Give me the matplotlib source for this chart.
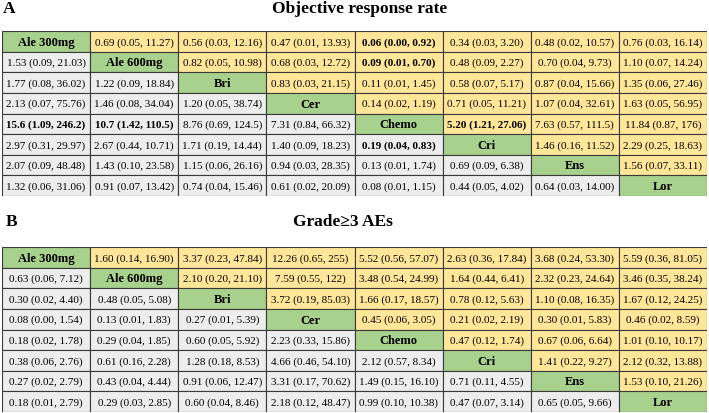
import matplotlib.pyplot as plt
from matplotlib.patches import Rectangle

plt.rcParams['font.family'] = ['Liberation Serif', 'DejaVu Serif']

# treatment names on the diagonal
names = ['Ale 300mg', 'Ale 600mg', 'Bri', 'Cer', 'Chemo', 'Cri', 'Ens', 'Lor']

# panel A: objective response rate, OR (95% CrI); '' on the diagonal
orr_rows = [
    ['', '0.69 (0.05, 11.27)', '0.56 (0.03, 12.16)', '0.47 (0.01, 13.93)', '0.06 (0.00, 0.92)', '0.34 (0.03, 3.20)', '0.48 (0.02, 10.57)', '0.76 (0.03, 16.14)'],
    ['1.53 (0.09, 21.03)', '', '0.82 (0.05, 10.98)', '0.68 (0.03, 12.72)', '0.09 (0.01, 0.70)', '0.48 (0.09, 2.27)', '0.70 (0.04, 9.73)', '1.10 (0.07, 14.24)'],
    ['1.77 (0.08, 36.02)', '1.22 (0.09, 18.84)', '', '0.83 (0.03, 21.15)', '0.11 (0.01, 1.45)', '0.58 (0.07, 5.17)', '0.87 (0.04, 15.66)', '1.35 (0.06, 27.46)'],
    ['2.13 (0.07, 75.76)', '1.46 (0.08, 34.04)', '1.20 (0.05, 38.74)', '', '0.14 (0.02, 1.19)', '0.71 (0.05, 11.21)', '1.07 (0.04, 32.61)', '1.63 (0.05, 56.95)'],
    ['15.6 (1.09, 246.2)', '10.7 (1.42, 110.5)', '8.76 (0.69, 124.5)', '7.31 (0.84, 66.32)', '', '5.20 (1.21, 27.06)', '7.63 (0.57, 111.5)', '11.84 (0.87, 176)'],
    ['2.97 (0.31, 29.97)', '2.67 (0.44, 10.71)', '1.71 (0.19, 14.44)', '1.40 (0.09, 18.23)', '0.19 (0.04, 0.83)', '', '1.46 (0.16, 11.52)', '2.29 (0.25, 18.63)'],
    ['2.07 (0.09, 48.48)', '1.43 (0.10, 23.58)', '1.15 (0.06, 26.16)', '0.94 (0.03, 28.35)', '0.13 (0.01, 1.74)', '0.69 (0.09, 6.38)', '', '1.56 (0.07, 33.11)'],
    ['1.32 (0.06, 31.06)', '0.91 (0.07, 13.42)', '0.74 (0.04, 15.46)', '0.61 (0.02, 20.09)', '0.08 (0.01, 1.15)', '0.44 (0.05, 4.02)', '0.64 (0.03, 14.00)', ''],
]
orr_bold = [(0, 4), (1, 4), (4, 0), (4, 1), (4, 5), (5, 4)]

# panel B: grade>=3 adverse events
ae_rows = [
    ['', '1.60 (0.14, 16.90)', '3.37 (0.23, 47.84)', '12.26 (0.65, 255)', '5.52 (0.56, 57.07)', '2.63 (0.36, 17.84)', '3.68 (0.24, 53.30)', '5.59 (0.36, 81.05)'],
    ['0.63 (0.06, 7.12)', '', '2.10 (0.20, 21.10)', '7.59 (0.55, 122)', '3.48 (0.54, 24.99)', '1.64 (0.44, 6.41)', '2.32 (0.23, 24.64)', '3.46 (0.35, 38.24)'],
    ['0.30 (0.02, 4.40)', '0.48 (0.05, 5.08)', '', '3.72 (0.19, 85.03)', '1.66 (0.17, 18.57)', '0.78 (0.12, 5.63)', '1.10 (0.08, 16.35)', '1.67 (0.12, 24.25)'],
    ['0.08 (0.00, 1.54)', '0.13 (0.01, 1.83)', '0.27 (0.01, 5.39)', '', '0.45 (0.06, 3.05)', '0.21 (0.02, 2.19)', '0.30 (0.01, 5.83)', '0.46 (0.02, 8.59)'],
    ['0.18 (0.02, 1.78)', '0.29 (0.04, 1.85)', '0.60 (0.05, 5.92)', '2.23 (0.33, 15.86)', '', '0.47 (0.12, 1.74)', '0.67 (0.06, 6.64)', '1.01 (0.10, 10.17)'],
    ['0.38 (0.06, 2.76)', '0.61 (0.16, 2.28)', '1.28 (0.18, 8.53)', '4.66 (0.46, 54.10)', '2.12 (0.57, 8.34)', '', '1.41 (0.22, 9.27)', '2.12 (0.32, 13.88)'],
    ['0.27 (0.02, 2.79)', '0.43 (0.04, 4.44)', '0.91 (0.06, 12.47)', '3.31 (0.17, 70.62)', '1.49 (0.15, 16.10)', '0.71 (0.11, 4.55)', '', '1.53 (0.10, 21.26)'],
    ['0.18 (0.01, 2.79)', '0.29 (0.03, 2.85)', '0.60 (0.04, 8.46)', '2.18 (0.12, 48.47)', '0.99 (0.10, 10.38)', '0.47 (0.07, 3.14)', '0.65 (0.05, 9.66)', ''],
]
ae_bold = []

GREEN = '#a9d18e'
YELLOW = '#ffe699'
GRAY = '#ededed'
EDGE = '#3a3a3a'


def draw_table(ax, rows, bold):
    n = len(names)
    for i in range(n):
        for j in range(n):
            if i == j:
                fc, txt, fw, fs = GREEN, names[i], 'bold', 9
            elif j > i:
                fc, txt, fw, fs = YELLOW, rows[i][j], 'normal', 8
            else:
                fc, txt, fw, fs = GRAY, rows[i][j], 'normal', 8
            if (i, j) in bold:
                fw = 'bold'
            ax.add_patch(Rectangle((j, i), 1, 1, facecolor=fc, edgecolor=EDGE, lw=0.8))
            ax.text(j + 0.5, i + 0.52, txt, ha='center', va='center', fontsize=fs, fontweight=fw)
    ax.set_xlim(0, n)
    ax.set_ylim(n, 0)
    ax.axis('off')


fig = plt.figure(figsize=(7.09, 4.14), dpi=100)
W, H = 709, 414

axA = fig.add_axes([2 / W, 1 - 197 / H, 705 / W, 165 / H])
draw_table(axA, orr_rows, orr_bold)
axB = fig.add_axes([2 / W, 1 - 413 / H, 705 / W, 165 / H])
draw_table(axB, ae_rows, ae_bold)

fig.text(3 / W, 1 - 9 / H, 'A', fontsize=12.5, fontweight='bold', va='center')
fig.text(360 / W, 1 - 9 / H, 'Objective response rate', fontsize=12.5, fontweight='bold',
         ha='center', va='center')
fig.text(6 / W, 1 - 222 / H, 'B', fontsize=12.5, fontweight='bold', va='center')
fig.text(343 / W, 1 - 222 / H, 'Grade\u22653 AEs', fontsize=12.5, fontweight='bold',
         ha='center', va='center', family=['Liberation Serif', 'DejaVu Serif'])

fig.savefig('out.png', dpi=100)
